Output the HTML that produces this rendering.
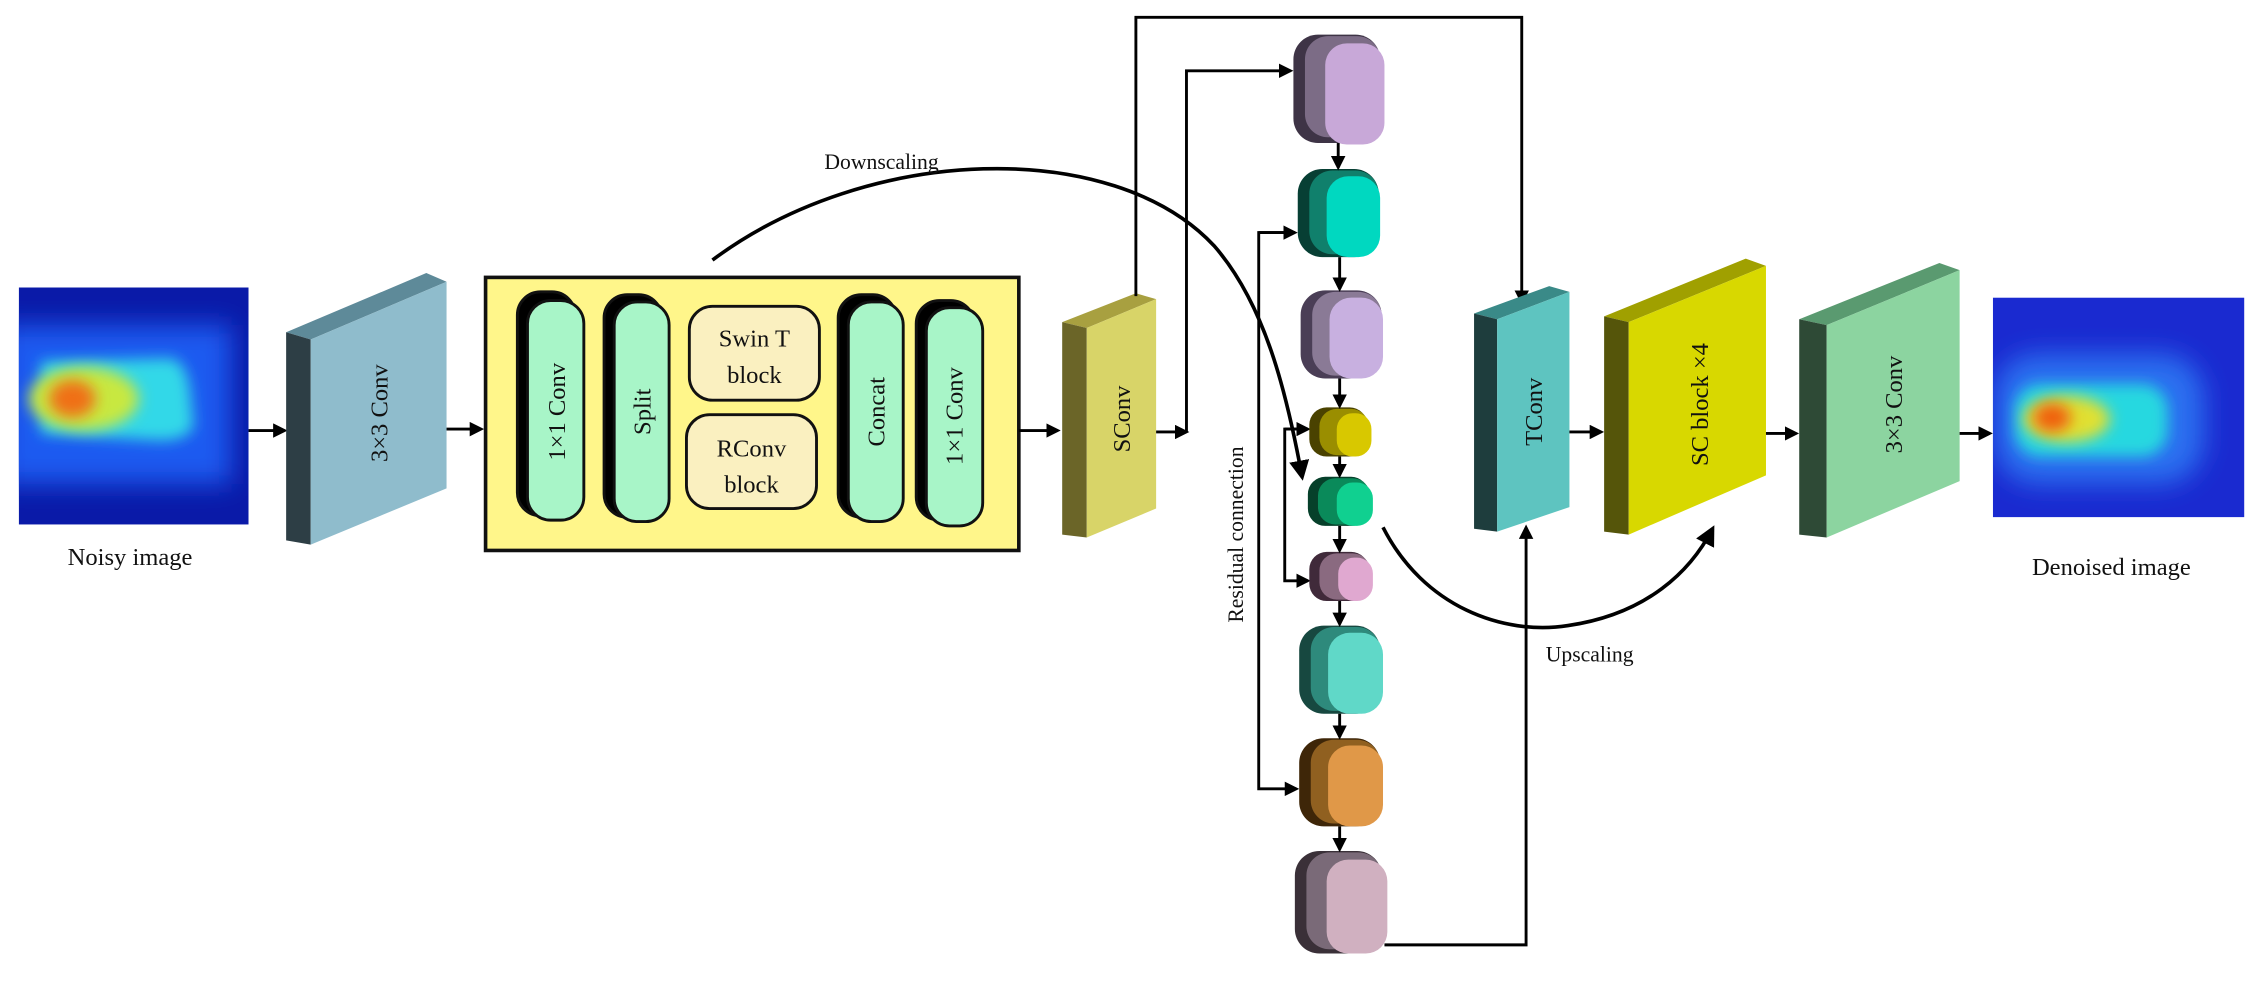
<!DOCTYPE html>
<html><head><meta charset="utf-8">
<style>
html,body{margin:0;padding:0;background:#fff;}
svg{display:block;}
text{font-family:"Liberation Serif",serif;fill:#111;}
</style></head>
<body>
<svg width="2266" height="981" viewBox="0 0 1568 679" preserveAspectRatio="none" xmlns="http://www.w3.org/2000/svg">
<defs>
<marker id="ahb" viewBox="0 0 10 10" refX="8" refY="5" markerWidth="14" markerHeight="14" orient="auto" markerUnits="userSpaceOnUse">
<path d="M0,0 L10,5 L0,10 z" fill="#000"/>
</marker>
<marker id="ahs" viewBox="0 0 10 10" refX="8" refY="5" markerWidth="10" markerHeight="10" orient="auto" markerUnits="userSpaceOnUse">
<path d="M0,0 L10,5 L0,10 z" fill="#000"/>
</marker>
<filter id="bl" x="-50%" y="-50%" width="200%" height="200%"><feGaussianBlur stdDeviation="9"/></filter>
<filter id="bl2" x="-50%" y="-50%" width="200%" height="200%"><feGaussianBlur stdDeviation="5"/></filter>
<clipPath id="c1"><rect x="13" y="199" width="159" height="164"/></clipPath>
<clipPath id="c2"><rect x="1379" y="206" width="174" height="152"/></clipPath>
</defs>

<!-- Noisy image -->
<g clip-path="url(#c1)">
<rect x="13" y="199" width="159" height="164" fill="#0a1aa8"/>
<rect x="0" y="225" width="160" height="110" fill="#1f5af0" filter="url(#bl)"/>
<path d="M28,250 L118,248 Q130,250 132,275 L134,295 Q130,305 110,305 L28,300 Z" fill="#30d8e8" filter="url(#bl2)"/>
<ellipse cx="58" cy="276" rx="38" ry="22" fill="#c8e840" filter="url(#bl2)"/>
<ellipse cx="50" cy="276" rx="16" ry="13" fill="#f07018" filter="url(#bl2)"/>
</g>
<text x="90" y="391" font-size="17" text-anchor="middle">Noisy image</text>

<line x1="172" y1="298" x2="197" y2="298" stroke="#000" stroke-width="2" marker-end="url(#ahs)"/>

<!-- 3x3 Conv -->
<polygon points="198,230 295,189 309,195 215,235" fill="#5e8a99"/>
<polygon points="198,230 215,235 215,377 198,374" fill="#2d3e45"/>
<polygon points="215,235 309,195 309,338 215,377" fill="#8fbccc"/>
<text transform="translate(268,286) rotate(-90)" font-size="17" text-anchor="middle">3×3 Conv</text>

<line x1="309" y1="297" x2="333" y2="297" stroke="#000" stroke-width="2" marker-end="url(#ahs)"/>

<!-- Yellow box -->
<rect x="336" y="192" width="369" height="189" fill="#fff68a" stroke="#111" stroke-width="2.5"/>
<g stroke="#111" stroke-width="2">
<rect x="358" y="202" width="40" height="155" rx="16" fill="#000"/>
<rect x="365" y="208" width="39" height="152" rx="16" fill="#a8f5c8"/>
<rect x="418" y="204" width="40" height="154" rx="16" fill="#000"/>
<rect x="425" y="209" width="38" height="152" rx="16" fill="#a8f5c8"/>
<rect x="580" y="204" width="40" height="154" rx="16" fill="#000"/>
<rect x="587" y="209" width="38" height="152" rx="16" fill="#a8f5c8"/>
<rect x="634" y="208" width="40" height="152" rx="16" fill="#000"/>
<rect x="641" y="213" width="39" height="151" rx="16" fill="#a8f5c8"/>
<rect x="477" y="212" width="90" height="65" rx="16" fill="#faf0c0"/>
<rect x="475" y="287" width="90" height="65" rx="16" fill="#faf0c0"/>
</g>
<text transform="translate(391,285) rotate(-90)" font-size="17" text-anchor="middle">1×1 Conv</text>
<text transform="translate(450,285) rotate(-90)" font-size="17" text-anchor="middle">Split</text>
<text transform="translate(612,285) rotate(-90)" font-size="17" text-anchor="middle">Concat</text>
<text transform="translate(666,288) rotate(-90)" font-size="17" text-anchor="middle">1×1 Conv</text>
<text x="522" y="240" font-size="17" text-anchor="middle">Swin T</text>
<text x="522" y="265" font-size="17" text-anchor="middle">block</text>
<text x="520" y="316" font-size="17" text-anchor="middle">RConv</text>
<text x="520" y="341" font-size="17" text-anchor="middle">block</text>

<line x1="705" y1="298" x2="732" y2="298" stroke="#000" stroke-width="2" marker-end="url(#ahs)"/>

<!-- SConv -->
<polygon points="735,223 786,203 800,207 752,227" fill="#a8a040"/>
<polygon points="735,223 752,227 752,372 735,370" fill="#6b6528"/>
<polygon points="752,227 800,207 800,352 752,372" fill="#d8d468"/>
<text transform="translate(782,290) rotate(-90)" font-size="17" text-anchor="middle">SConv</text>

<polyline points="786,205 786,12 1053,12 1053,209" fill="none" stroke="#000" stroke-width="2" marker-end="url(#ahs)"/>
<line x1="800" y1="299" x2="821" y2="299" stroke="#000" stroke-width="2" marker-end="url(#ahs)"/>
<polyline points="821,299 821,49 893,49" fill="none" stroke="#000" stroke-width="2" marker-end="url(#ahs)"/>

<path d="M493,180 C600,100 770,95 840,170 C875,210 890,270 901,330" fill="none" stroke="#000" stroke-width="2.5" marker-end="url(#ahb)"/>
<text x="610" y="117" font-size="15" text-anchor="middle">Downscaling</text>

<polyline points="896,161 871,161 871,546 897,546" fill="none" stroke="#000" stroke-width="2" marker-end="url(#ahs)"/>
<line x1="871" y1="161" x2="896" y2="161" stroke="#000" stroke-width="2" marker-end="url(#ahs)"/>
<polyline points="905,297 889,297 889,402 905,402" fill="none" stroke="#000" stroke-width="2" marker-end="url(#ahs)"/>
<line x1="889" y1="297" x2="905" y2="297" stroke="#000" stroke-width="2" marker-end="url(#ahs)"/>
<text transform="translate(860,370) rotate(-90)" font-size="15" text-anchor="middle">Residual connection</text>

<polyline points="958,654 1056,654 1056,365" fill="none" stroke="#000" stroke-width="2" marker-end="url(#ahs)"/>

<g>
<rect x="895" y="24" width="60" height="75" rx="17" fill="#3e3446"/>
<rect x="903" y="25" width="52" height="70" rx="16" fill="#7c6c86"/>
<rect x="917" y="30" width="41" height="70" rx="15" fill="#c8a8d8"/>
<rect x="898" y="117" width="56" height="61" rx="17" fill="#073f34"/>
<rect x="906" y="118" width="48" height="58" rx="16" fill="#10806c"/>
<rect x="918" y="122" width="37" height="56" rx="15" fill="#00d8c0"/>
<rect x="900" y="201" width="56" height="61" rx="17" fill="#4a3e56"/>
<rect x="908" y="202" width="48" height="58" rx="16" fill="#8a7a96"/>
<rect x="920" y="206" width="37" height="56" rx="15" fill="#c8b0e0"/>
<rect x="906" y="282" width="40" height="34" rx="12" fill="#4a4200"/>
<rect x="913" y="283" width="34" height="32" rx="12" fill="#9a8e00"/>
<rect x="925" y="286" width="24" height="30" rx="11" fill="#d8c800"/>
<rect x="905" y="330" width="42" height="34" rx="12" fill="#06402a"/>
<rect x="912" y="331" width="36" height="32" rx="12" fill="#0a8a5a"/>
<rect x="925" y="334" width="25" height="30" rx="11" fill="#10d090"/>
<rect x="906" y="382" width="41" height="34" rx="12" fill="#402a3a"/>
<rect x="913" y="383" width="35" height="32" rx="12" fill="#8a6a80"/>
<rect x="926" y="386" width="24" height="30" rx="11" fill="#e0a8d0"/>
<rect x="899" y="433" width="56" height="61" rx="17" fill="#174840"/>
<rect x="907" y="434" width="48" height="58" rx="16" fill="#2e8a7c"/>
<rect x="919" y="438" width="38" height="56" rx="15" fill="#60d8c8"/>
<rect x="899" y="511" width="56" height="61" rx="17" fill="#3e2608"/>
<rect x="907" y="512" width="48" height="58" rx="16" fill="#906020"/>
<rect x="919" y="516" width="38" height="56" rx="15" fill="#e09848"/>
<rect x="896" y="589" width="60" height="71" rx="17" fill="#3a3038"/>
<rect x="904" y="590" width="52" height="67" rx="16" fill="#7a6a78"/>
<rect x="918" y="595" width="42" height="65" rx="15" fill="#d0b0c0"/>
</g>
<g stroke="#000" stroke-width="2">
<line x1="926" y1="99" x2="926" y2="116" marker-end="url(#ahs)"/>
<line x1="927" y1="178" x2="927" y2="200" marker-end="url(#ahs)"/>
<line x1="927" y1="262" x2="927" y2="281" marker-end="url(#ahs)"/>
<line x1="927" y1="316" x2="927" y2="329" marker-end="url(#ahs)"/>
<line x1="927" y1="364" x2="927" y2="381" marker-end="url(#ahs)"/>
<line x1="927" y1="416" x2="927" y2="432" marker-end="url(#ahs)"/>
<line x1="927" y1="494" x2="927" y2="510" marker-end="url(#ahs)"/>
<line x1="927" y1="572" x2="927" y2="588" marker-end="url(#ahs)"/>
</g>

<polygon points="1020,217 1072,198 1086,202 1036,221" fill="#3a8a88"/>
<polygon points="1020,217 1036,221 1036,368 1020,366" fill="#1e3d3d"/>
<polygon points="1036,221 1086,202 1086,351 1036,368" fill="#5ec4c0"/>
<text transform="translate(1067,285) rotate(-90)" font-size="17" text-anchor="middle">TConv</text>

<line x1="1086" y1="299" x2="1108" y2="299" stroke="#000" stroke-width="2" marker-end="url(#ahs)"/>

<polygon points="1110,219 1208,179 1222,184 1127,223" fill="#a0a000"/>
<polygon points="1110,219 1127,223 1127,370 1110,368" fill="#55550a"/>
<polygon points="1127,223 1222,184 1222,329 1127,370" fill="#d8d800"/>
<text transform="translate(1182,280) rotate(-90)" font-size="17" text-anchor="middle">SC block ×4</text>

<path d="M957,365 C985,420 1040,440 1085,433 C1140,425 1170,395 1185,366" fill="none" stroke="#000" stroke-width="2.5" marker-end="url(#ahb)"/>
<text x="1100" y="458" font-size="15" text-anchor="middle">Upscaling</text>

<line x1="1222" y1="300" x2="1243" y2="300" stroke="#000" stroke-width="2" marker-end="url(#ahs)"/>

<polygon points="1245,221 1342,182 1356,187 1264,225" fill="#5a9a70"/>
<polygon points="1245,221 1264,225 1264,372 1245,370" fill="#2e4a36"/>
<polygon points="1264,225 1356,187 1356,333 1264,372" fill="#8cd4a0"/>
<text transform="translate(1316,280) rotate(-90)" font-size="17" text-anchor="middle">3×3 Conv</text>

<line x1="1356" y1="300" x2="1377" y2="300" stroke="#000" stroke-width="2" marker-end="url(#ahs)"/>

<g clip-path="url(#c2)">
<rect x="1379" y="206" width="174" height="152" fill="#1a2ad0"/>
<rect x="1380" y="245" width="145" height="90" rx="30" fill="#2a70f0" filter="url(#bl)"/>
<rect x="1394" y="266" width="106" height="50" rx="18" fill="#28d8e0" filter="url(#bl2)"/>
<ellipse cx="1430" cy="290" rx="30" ry="16" fill="#e0e030" filter="url(#bl2)"/>
<ellipse cx="1420" cy="289" rx="13" ry="10" fill="#f06010" filter="url(#bl2)"/>
</g>
<text x="1461" y="398" font-size="17" text-anchor="middle">Denoised image</text>
</svg>
</body></html>
